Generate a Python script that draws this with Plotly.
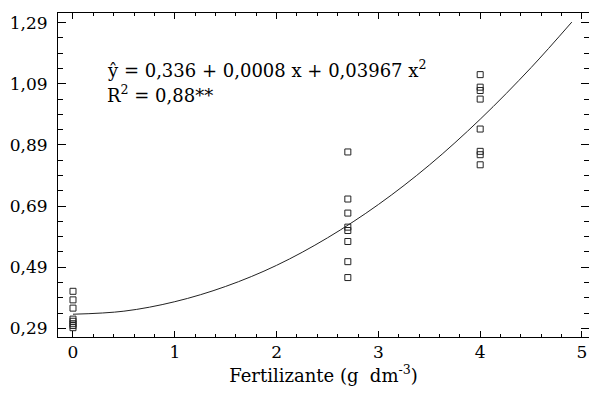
import plotly.graph_objects as go

dose_0 = [0, 0, 0, 0, 0, 0, 0, 0]
resp_0 = [0.411, 0.383, 0.356, 0.320, 0.313, 0.305, 0.299, 0.292]
dose_27 = [2.7, 2.7, 2.7, 2.7, 2.7, 2.7, 2.7, 2.7]
resp_27 = [0.867, 0.713, 0.667, 0.621, 0.610, 0.574, 0.508, 0.456]
dose_4 = [4, 4, 4, 4, 4, 4, 4, 4]
resp_4 = [1.120, 1.079, 1.068, 1.040, 0.942, 0.869, 0.858, 0.825]

# Fitted curve
curve_x = [0, 0.5, 1.0, 1.5, 2.0, 2.5, 3.0, 3.5, 4.0, 4.5, 4.9]
curve_y = [0.336, 0.346, 0.377, 0.427, 0.496, 0.586, 0.695, 0.824, 0.974, 1.143, 1.292]

y_ticks = [0.29, 0.49, 0.69, 0.89, 1.09, 1.29]
y_ticklabels = ["0,29", "0,49", "0,69", "0,89", "1,09", "1,29"]
x_ticks = [0, 1, 2, 3, 4, 5]
x_ticklabels = ["0", "1", "2", "3", "4", "5"]

eq_text = "ŷ = 0,336 + 0,0008 x + 0,03967 x<sup>2</sup>"
r2_text = "R<sup>2</sup> = 0,88**"
x_title = "Fertilizante (g  dm<sup>-3</sup>)"

FONT = "DejaVu Serif"
FS = 17
FS_TEXT = 18

fig = go.Figure()
fig.add_trace(go.Scatter(x=curve_x, y=curve_y, mode="lines",
                         line=dict(color="#222222", width=1, shape="spline"),
                         hoverinfo="skip", showlegend=False))
xs = dose_0 + dose_27 + dose_4
ys = resp_0 + resp_27 + resp_4
fig.add_trace(go.Scatter(x=xs, y=ys, mode="markers",
                         marker=dict(symbol="square-open", size=6,
                                     color="#222222", line=dict(width=1, color="#222222")),
                         showlegend=False))

fig.add_annotation(x=0.31, y=1.138, xref="x", yref="y", text=eq_text,
                   showarrow=False, xanchor="left", yanchor="middle",
                   font=dict(family=FONT, size=FS_TEXT, color="black"))
fig.add_annotation(x=0.31, y=1.058, xref="x", yref="y", text=r2_text,
                   showarrow=False, xanchor="left", yanchor="middle",
                   font=dict(family=FONT, size=FS_TEXT, color="black"))

fig.update_layout(
    width=589, height=394,
    margin=dict(l=58, r=0, t=13, b=57),
    plot_bgcolor="white", paper_bgcolor="white",
    font=dict(family=FONT, size=FS, color="black"),
    xaxis=dict(range=[-0.1473, 5.069], tickmode="array", tickvals=x_ticks,
               ticktext=x_ticklabels, ticks="inside", ticklen=6, tickwidth=1,
               tickcolor="black", showline=True, linecolor="black", linewidth=1,
               mirror="ticks", showgrid=False, zeroline=False,
               minor=dict(dtick=0.2, tick0=0, ticks="inside", ticklen=3,
                          tickcolor="black", showgrid=False),
               title=dict(text=x_title, font=dict(family=FONT, size=FS_TEXT), standoff=3),
               tickfont=dict(family=FONT, size=FS)),
    yaxis=dict(range=[0.2615, 1.3217], tickmode="array", tickvals=y_ticks,
               ticktext=y_ticklabels, ticks="inside", ticklen=8, tickwidth=1,
               tickcolor="black", showline=True, linecolor="black", linewidth=1,
               mirror="ticks", showgrid=False, zeroline=False,
               minor=dict(dtick=0.05, tick0=0.29, ticks="inside", ticklen=5,
                          tickcolor="black", showgrid=False),
               ticklabelstandoff=6,
               tickfont=dict(family=FONT, size=FS)),
)

fig.write_html("out.html")
